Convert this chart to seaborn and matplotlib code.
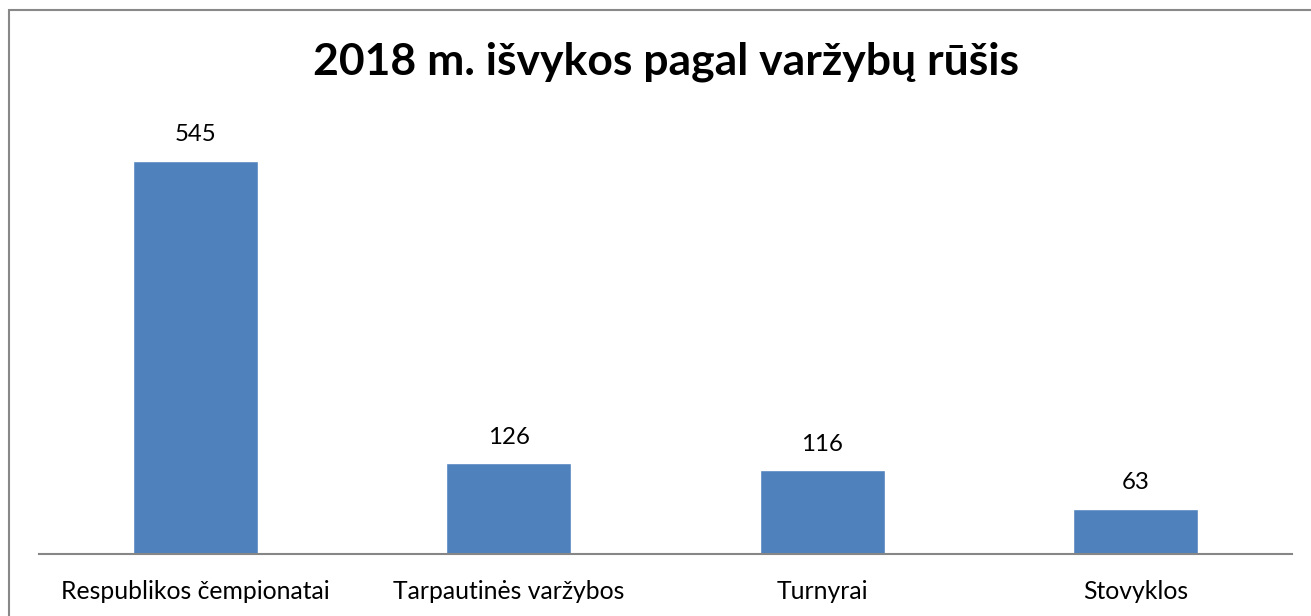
import matplotlib
matplotlib.use("Agg")
import matplotlib.pyplot as plt
import seaborn as sns
import pandas as pd
from matplotlib.patches import Rectangle

# chart data
categories = ["Respublikos čempionatai", "Tarpautinės varžybos", "Turnyrai", "Stovyklos"]
values = [545, 126, 116, 63]
title = "2018 m. išvykos pagal varžybų rūšis"

df = pd.DataFrame({"kategorija": categories, "kiekis": values})

sns.set_style("white")
plt.rcParams['font.family'] = ['Lato', 'DejaVu Sans']

fig = plt.figure(figsize=(13.11, 6.16), dpi=100)
ax = fig.add_axes([38.8 / 1311, 1 - 554 / 616, 1253.4 / 1311, 433 / 616])

sns.barplot(data=df, x="kategorija", y="kiekis", color="#4F81BD", width=0.4,
            saturation=1, ax=ax)

ax.set_ylim(0, 600)
ax.set_xlim(-0.5, len(categories) - 0.5)
ax.set_xlabel("")
ax.set_ylabel("")
ax.set_yticks([])
for side in ["top", "left", "right"]:
    ax.spines[side].set_visible(False)
ax.spines["bottom"].set_color("#868686")
ax.spines["bottom"].set_linewidth(1.5)
ax.tick_params(axis="x", length=0, pad=19, labelsize=17.8, labelcolor="black")

ax.bar_label(ax.containers[0], labels=[str(v) for v in values], padding=11,
             fontsize=17.3, color="black")

fig.text(666 / 1311, 1 - 75 / 616, title, ha="center", va="baseline",
         fontsize=32, fontweight="bold", color="black")

# outer chart frame
fig.patches.append(Rectangle((9 / 1311, -0.1), 1.2, 1.1 - 9.5 / 616,
                             transform=fig.transFigure, fill=False,
                             edgecolor="#888888", linewidth=1.5))

fig.savefig("out.png", dpi=100)
